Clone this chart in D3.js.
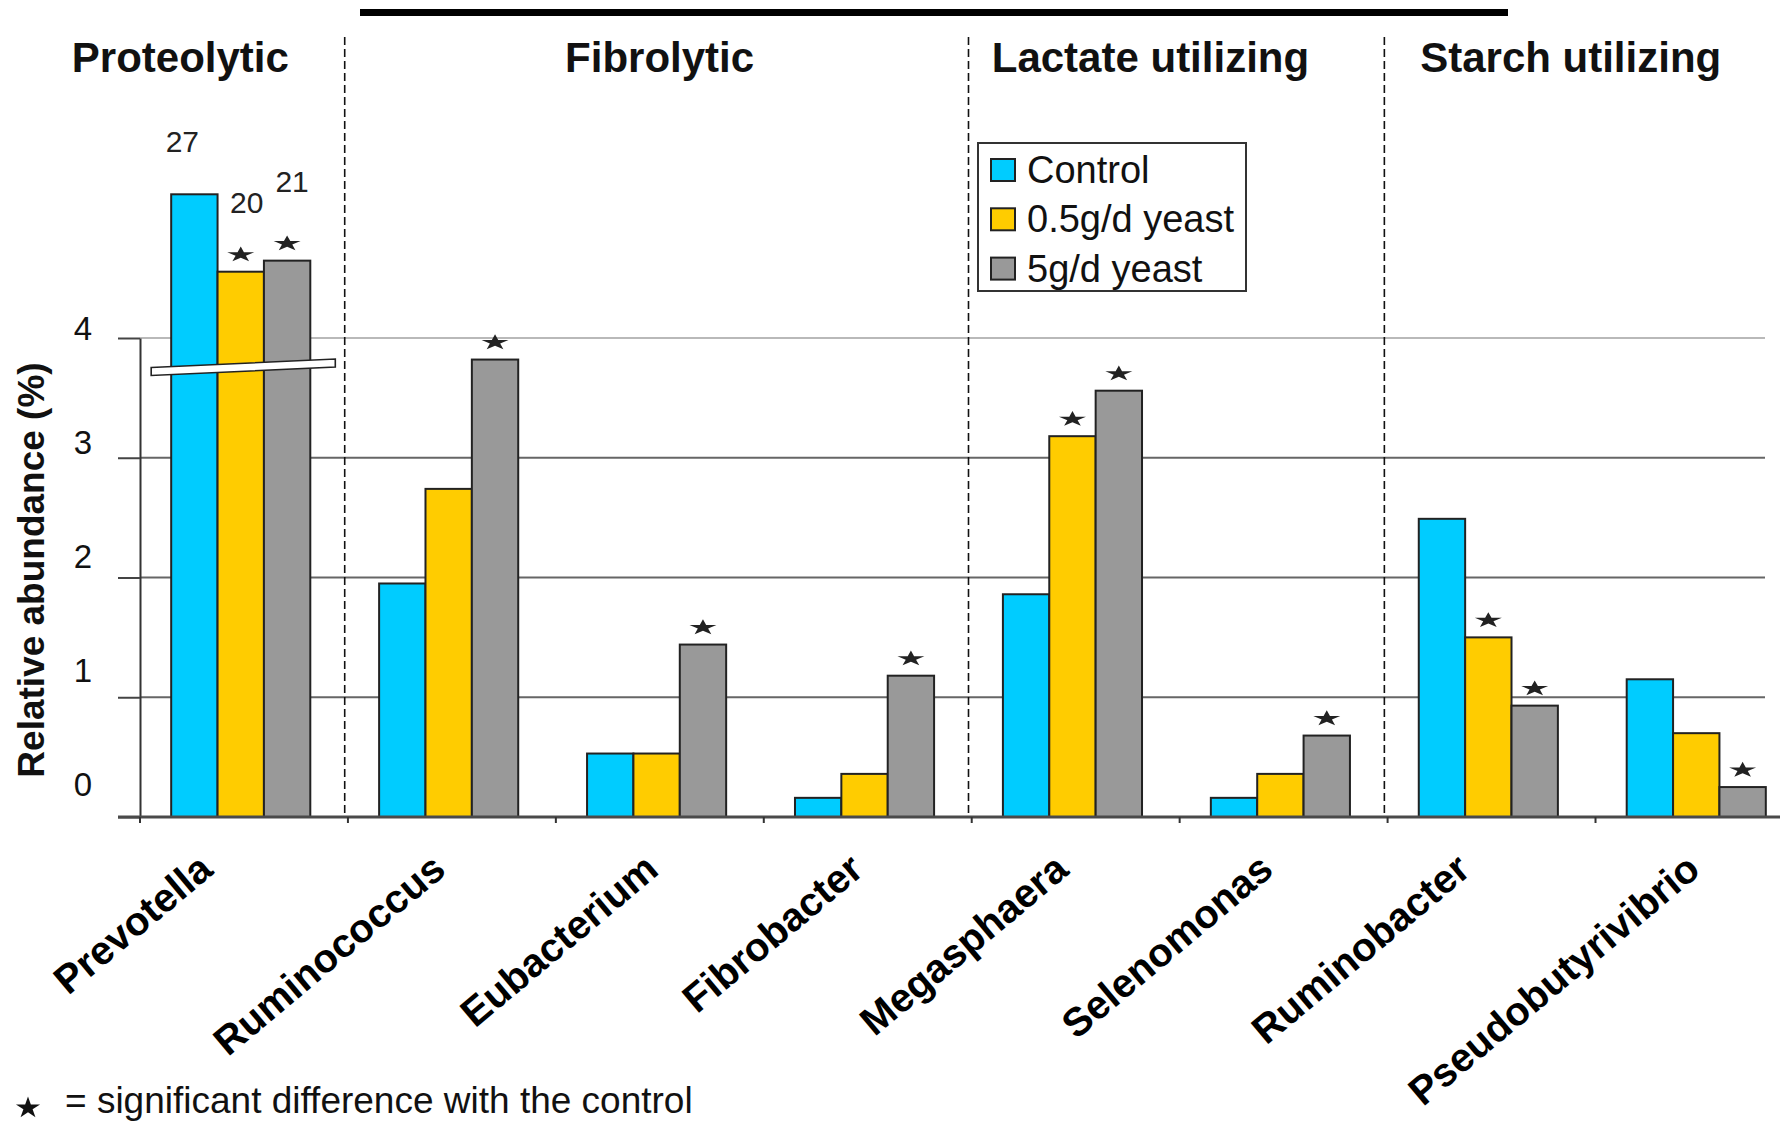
<!DOCTYPE html>
<html>
<head>
<meta charset="utf-8">
<script src="https://cdn.jsdelivr.net/npm/d3@7"></script>
<style>
  html, body { margin: 0; padding: 0; background: #ffffff; }
  svg { display: block; }
  text { font-family: "Liberation Sans", Arial, Helvetica, sans-serif; }
</style>
</head>
<body>
<script>
// ---- data -------------------------------------------------------------
const genera = ["Prevotella", "Ruminococcus", "Eubacterium", "Fibrobacter",
                "Megasphaera", "Selenomonas", "Ruminobacter", "Pseudobutyrivibrio"];
const seriesNames = ["Control", "0.5g/d yeast", "5g/d yeast"];
const seriesColors = ["#00CCFF", "#FFCC00", "#999999"];

// relative abundance (%) per genus
const controlValues   = [27, 1.95, 0.53, 0.16, 1.86, 0.16, 2.49, 1.15];
const yeastLowValues  = [20, 2.74, 0.53, 0.36, 3.18, 0.36, 1.50, 0.70];
const yeastHighValues = [21, 3.82, 1.44, 1.18, 3.56, 0.68, 0.93, 0.25];

// significant difference with the control (1 = yes)
const controlSig   = [0, 0, 0, 0, 0, 0, 0, 0];
const yeastLowSig  = [1, 0, 0, 0, 1, 0, 1, 0];
const yeastHighSig = [1, 1, 1, 1, 1, 1, 1, 1];

// functional groups and how many genera each spans
const groupNames = ["Proteolytic", "Fibrolytic", "Lactate utilizing", "Starch utilizing"];
const groupSizes = [1, 3, 2, 2];

const yTicks = [0, 1, 2, 3, 4];
const yTitle = "Relative abundance (%)";
const footnote = "= significant difference with the control";

// ---- layout -----------------------------------------------------------
const W = 1783, H = 1121;
const axisX = 140, plotRight = 1765;

const svg = d3.select("body").append("svg")
  .attr("width", W).attr("height", H)
  .attr("viewBox", `0 0 ${W} ${H}`);

svg.append("rect").attr("width", W).attr("height", H).attr("fill", "#ffffff");

const series = [controlValues, yeastLowValues, yeastHighValues];
const sigs = [controlSig, yeastLowSig, yeastHighSig];

const rows = genera.map((g, i) => ({
  genus: g,
  values: series.map((s, k) => ({ k, genus: g, value: s[i], sig: sigs[k][i] === 1 }))
}));

// outer band per genus, inner band per treatment
const x0 = d3.scaleBand().domain(genera).range([axisX, 1797])
  .paddingInner(0.331).paddingOuter(0.15);
const x1 = d3.scaleBand().domain(d3.range(seriesNames.length))
  .range([0, x0.bandwidth()]).padding(0);

// broken value axis: linear 0-4, compressed segment above the break
const y = d3.scaleLinear().domain([0, 4, 20, 27]).range([817, 338, 271.7, 194.3]);
const yAxisScale = d3.scaleLinear().domain([0, 4]).range([y(0), y(4)]);
// tick labels sit on their own slightly tighter spacing
const yLabelPos = d3.scaleLinear().domain([0, 4]).range([795, 339]);

// ---- top rule --------------------------------------------------------
svg.append("line")
  .attr("x1", 360).attr("x2", 1508).attr("y1", 12.5).attr("y2", 12.5)
  .attr("stroke", "#000").attr("stroke-width", 7);

// ---- gridlines ---------------------------------------------------------
svg.append("g").selectAll("line").data(yTicks.filter(d => d > 0)).join("line")
  .attr("x1", axisX).attr("x2", plotRight)
  .attr("y1", d => y(d)).attr("y2", d => y(d))
  .attr("stroke", d => d === 4 ? "#b9b9b9" : "#666666")
  .attr("stroke-width", 2);

// ---- group separators ------------------------------------------------
const gap = x0.step() - x0.bandwidth();
const starts = [];
let acc = 0;
groupSizes.forEach(n => { starts.push(acc); acc += n; });
const sepX = starts.slice(1).map(i => x0(genera[i]) - gap / 2);

svg.append("g").selectAll("line").data(sepX).join("line")
  .attr("x1", d => d).attr("x2", d => d)
  .attr("y1", 37).attr("y2", y(0))
  .attr("stroke", "#111").attr("stroke-width", 1.6)
  .attr("stroke-dasharray", "8,4");

// group headers, centred in the span between separators
const bounds = [0, ...sepX, plotRight];
const headerNudge = [8, 3, -26, -4];
svg.append("g").selectAll("text").data(groupNames).join("text")
  .attr("x", (d, i) => (bounds[i] + bounds[i + 1]) / 2 + headerNudge[i])
  .attr("y", 72)
  .attr("text-anchor", "middle")
  .attr("font-size", 42).attr("font-weight", "bold").attr("fill", "#111")
  .text(d => d);

// ---- bars ------------------------------------------------------------
const gBars = svg.append("g");
const groups = gBars.selectAll("g").data(rows).join("g")
  .attr("transform", d => `translate(${x0(d.genus)},0)`);

groups.selectAll("rect").data(d => d.values).join("rect")
  .attr("x", d => x1(d.k))
  .attr("width", x1.bandwidth())
  .attr("y", d => y(d.value))
  .attr("height", d => y(0) - y(d.value))
  .attr("fill", d => seriesColors[d.k])
  .attr("stroke", "#222").attr("stroke-width", 2);

// significance stars
const starPath = d3.symbol(d3.symbolStar, 250)();
groups.selectAll("path.sig").data(d => d.values.filter(v => v.sig)).join("path")
  .attr("class", "sig")
  .attr("d", starPath)
  .attr("fill", "#222")
  .attr("transform", d => `translate(${x1(d.k) + x1.bandwidth() / 2},${y(d.value) - 17}) scale(0.95,0.55)`);

// values beyond the axis break are written out
const labelOffset = [[-12, -42], [6, -59], [5, -69]];
groups.selectAll("text.val").data(d => d.values.filter(v => v.value > 4)).join("text")
  .attr("class", "val")
  .attr("x", d => x1(d.k) + x1.bandwidth() / 2 + labelOffset[d.k][0])
  .attr("y", d => y(d.value) + labelOffset[d.k][1])
  .attr("text-anchor", "middle")
  .attr("font-size", 30).attr("fill", "#222")
  .text(d => d3.format("d")(d.value));

// axis break marker across the tall bars
const tall = rows.filter(r => r.values.some(v => v.value > 4));
const breakVal = 3.72;
svg.append("g").selectAll("path").data(tall).join("path")
  .attr("d", r => {
    const xl = x0(r.genus) - 20, xr = x0(r.genus) + x0.bandwidth() + 25;
    const yl = y(breakVal), yr = y(breakVal) - 8.5, t = 8;
    return `M${xl},${yl - t / 2}L${xr},${yr - t / 2}L${xr},${yr + t / 2}L${xl},${yl + t / 2}Z`;
  })
  .attr("fill", "#ffffff").attr("stroke", "#222").attr("stroke-width", 1.6);

// ---- axes ------------------------------------------------------------
const yAxis = svg.append("g")
  .attr("transform", `translate(${axisX},0)`)
  .call(d3.axisLeft(yAxisScale).tickValues(yTicks).tickSize(22).tickSizeOuter(0)
        .tickFormat(d3.format("d")));
yAxis.select(".domain").attr("stroke", "#333").attr("stroke-width", 2);
yAxis.selectAll(".tick line").attr("stroke", "#444").attr("stroke-width", 2);
yAxis.selectAll(".tick text")
  .attr("x", 83 - axisX)
  .attr("y", d => yLabelPos(d) - yAxisScale(d))
  .attr("dy", null)
  .attr("text-anchor", "middle")
  .attr("font-size", 33)
  .attr("font-family", "'Liberation Sans', Arial, sans-serif")
  .attr("fill", "#111");

// baseline
svg.append("line")
  .attr("x1", 118).attr("x2", 1780).attr("y1", y(0)).attr("y2", y(0))
  .attr("stroke", "#4a4a4a").attr("stroke-width", 3);

// category ticks on the baseline
svg.append("g").selectAll("line").data(genera).join("line")
  .attr("x1", d => x0(d) - x0.paddingOuter() * x0.step())
  .attr("x2", d => x0(d) - x0.paddingOuter() * x0.step())
  .attr("y1", y(0)).attr("y2", y(0) + 6)
  .attr("stroke", "#333").attr("stroke-width", 2);

// rotated genus labels, right-aligned under each group
const labelNudge = [-30, -5, 0, -3, -6, -9, -20, 2];
svg.append("g").selectAll("text").data(genera).join("text")
  .attr("transform", (d, i) => `translate(${x0(d) + x0.bandwidth() / 2 + 4 + labelNudge[i]},873) rotate(-40)`)
  .attr("text-anchor", "end")
  .attr("font-size", 40).attr("font-weight", "bold").attr("fill", "#000")
  .text(d => d);

// y axis title
svg.append("text")
  .attr("transform", "translate(44,570) rotate(-90)")
  .attr("text-anchor", "middle")
  .attr("font-size", 37).attr("font-weight", "bold").attr("fill", "#111")
  .text(yTitle);

// ---- legend ----------------------------------------------------------
const lg = svg.append("g").attr("transform", "translate(978,143)");
lg.append("rect").attr("width", 268).attr("height", 148)
  .attr("fill", "#ffffff").attr("stroke", "#333").attr("stroke-width", 2);
const li = lg.selectAll("g").data(seriesNames).join("g")
  .attr("transform", (d, i) => `translate(0,${i * 49.3})`);
li.append("rect").attr("x", 13).attr("y", 16).attr("width", 24).attr("height", 22)
  .attr("fill", (d, i) => seriesColors[i]).attr("stroke", "#222").attr("stroke-width", 2);
li.append("text").attr("x", 49).attr("y", 40)
  .attr("font-size", 38).attr("fill", "#111").text(d => d);

// ---- footnote --------------------------------------------------------
svg.append("path")
  .attr("d", d3.symbol(d3.symbolStar, 180)())
  .attr("transform", "translate(28,1108) scale(1,0.9)")
  .attr("fill", "#111");
svg.append("text").attr("x", 65).attr("y", 1113)
  .attr("font-size", 37).attr("fill", "#111").text(footnote);
</script>
</body>
</html>
